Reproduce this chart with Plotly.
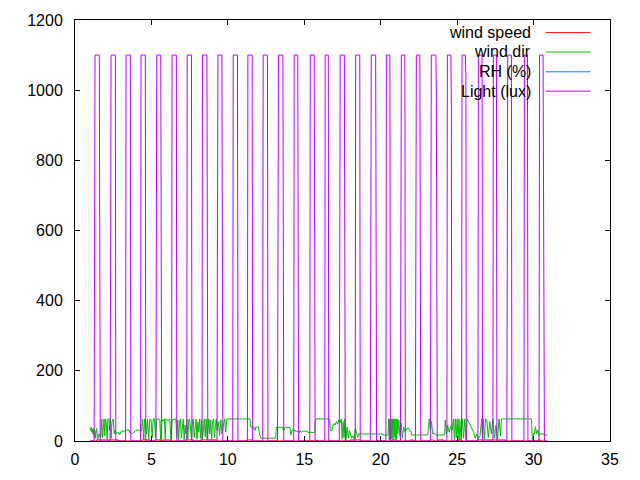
import plotly.graph_objects as go

# ---------------- data ----------------
# Light (lux): daily pulses -> on/off days, plus intermediate levels on the edges
pulse_on = [1.31, 2.36, 3.34, 4.32, 5.35, 6.35, 7.34, 8.34, 9.35, 10.35,
            11.31, 12.31, 13.31, 14.34, 15.39, 16.37, 17.35, 18.36, 19.38, 20.37,
            21.35, 22.33, 23.31, 24.36, 25.32, 26.39, 27.37, 28.31, 29.40, 30.39]
pulse_off = [1.59, 2.64, 3.62, 4.60, 5.61, 6.63, 7.62, 8.63, 9.61, 10.63,
             11.59, 12.59, 13.60, 14.57, 15.65, 16.57, 17.62, 18.63, 19.67, 20.60,
             21.58, 22.56, 23.61, 24.59, 25.54, 26.63, 27.57, 28.55, 29.60, 30.62]
pulse_level = 1100
rise_steps = [[553], [354], [], [], [938], [], [], [], [661], [],
              [], [], [618], [], [], [], [640], [], [390], [],
              [430], [651], [561], [], [], [], [], [957], [], []]
fall_steps = [[678], [], [], [], [380], [], [], [647], [630], [],
              [], [], [482], [413], [571], [], [376], [], [451], [],
              [], [356], [995, 454], [957], [1038], [], [], [], [], [758, 571]]
light_start, light_end = 0.98, 30.92

# wind dir (day, value)
wind_dir = [
    (0.98, 36), (1.02, 30), (1.06, 40), (1.10, 25), (1.14, 34), (1.18, 20), (1.22, 36),
    (1.26, 10), (1.30, 30), (1.34, 8), (1.38, 28), (1.42, 36),
    (1.48, 5), (1.58, 20), (1.68, 8),
    (1.75, 63), (1.80, 10), (1.85, 60), (1.90, 63), (1.95, 15), (2.00, 63), (2.05, 50),
    (2.10, 5), (2.15, 63), (2.22, 63), (2.27, 30), (2.32, 63), (2.37, 8), (2.42, 55),
    (2.50, 63), (2.57, 20),
    (2.62, 30), (2.72, 20), (2.82, 25), (2.92, 17), (3.02, 28),
    (3.10, 28), (3.25, 28), (3.30, 31), (3.55, 31), (3.60, 22), (3.75, 22), (3.95, 28),
    (4.00, 31), (4.20, 31), (4.25, 28), (4.35, 28),
    (4.40, 63), (4.45, 40), (4.50, 3), (4.55, 63), (4.62, 55), (4.68, 20), (4.75, 63),
    (4.82, 5), (4.90, 63), (4.98, 60), (5.05, 10), (5.12, 63), (5.20, 63), (5.28, 8),
    (5.35, 63), (5.50, 63), (5.55, 58), (5.60, 3), (5.65, 63), (5.75, 56), (5.85, 63),
    (5.90, 5), (5.95, 63), (6.10, 58), (6.20, 63), (6.28, 3), (6.35, 60), (6.60, 63),
    (6.66, 10), (6.72, 60), (6.78, 3), (6.84, 55), (6.90, 63), (6.96, 8), (7.02, 50),
    (7.08, 63), (7.14, 3), (7.20, 45), (7.26, 20), (7.32, 63), (7.38, 5), (7.44, 60),
    (7.50, 63), (7.56, 15), (7.62, 3), (7.68, 58), (7.74, 63), (7.80, 10), (7.86, 40),
    (7.92, 63), (7.98, 5), (8.04, 55), (8.10, 25), (8.16, 63), (8.22, 8), (8.28, 60),
    (8.34, 3), (8.40, 50), (8.46, 63), (8.52, 12), (8.58, 63), (8.64, 5), (8.70, 45),
    (8.76, 63), (8.82, 20), (8.88, 60), (8.94, 3), (9.00, 55), (9.06, 63), (9.12, 10),
    (9.18, 40), (9.24, 63),
    (9.30, 30), (9.38, 55), (9.46, 15), (9.54, 60), (9.62, 20), (9.70, 45), (9.78, 63),
    (9.86, 25),
    (9.93, 63), (11.45, 63),
    (11.48, 40), (11.70, 40), (11.72, 31), (11.80, 31), (11.82, 40), (12.00, 40),
    (12.08, 17), (12.18, 8), (13.13, 8),
    (13.17, 39), (13.60, 39), (13.62, 31), (13.70, 31), (13.72, 39), (14.06, 39),
    (14.12, 17), (14.20, 31), (14.40, 31), (14.42, 28), (14.60, 28),
    (14.66, 22), (14.72, 30), (14.80, 25), (14.90, 28), (15.20, 28), (15.22, 25),
    (15.45, 25), (15.47, 24), (15.68, 24),
    (15.72, 55), (15.78, 63), (16.66, 63),
    (16.70, 30), (16.82, 30), (16.85, 41), (16.95, 50),
    (17.02, 45), (17.10, 55), (17.18, 48), (17.26, 60), (17.34, 52), (17.42, 63),
    (17.48, 5), (17.54, 55), (17.60, 10), (17.66, 63), (17.72, 3), (17.80, 40),
    (17.88, 8), (17.95, 30),
    (18.02, 20), (18.10, 8), (18.18, 15), (18.26, 5), (18.34, 36), (18.42, 20), (18.50, 10),
    (18.56, 20), (20.10, 20), (20.12, 17), (20.48, 17),
    (20.52, 63), (20.56, 3), (20.60, 63), (20.64, 3), (20.68, 63), (20.72, 5), (20.76, 63),
    (20.80, 3), (20.84, 63), (20.88, 10), (20.92, 63), (20.96, 3), (21.00, 63), (21.04, 5),
    (21.08, 63), (21.12, 20),
    (21.18, 60), (21.26, 15), (21.34, 50), (21.42, 8), (21.50, 40), (21.60, 25),
    (21.70, 36), (21.85, 36), (21.90, 28), (21.98, 28),
    (22.02, 17), (23.08, 17),
    (23.12, 40), (23.18, 63), (23.25, 30), (23.32, 55), (23.40, 20),
    (23.50, 22), (23.60, 17), (24.18, 17),
    (24.22, 60), (24.30, 20), (24.38, 45), (24.48, 25),
    (24.56, 41), (24.68, 31),
    (24.76, 63), (24.82, 3), (24.88, 63), (24.94, 10), (25.00, 63), (25.06, 5), (25.12, 63),
    (25.18, 3), (25.26, 60), (25.34, 63), (25.42, 8), (25.50, 63), (25.58, 3), (25.66, 63),
    (25.74, 55), (25.86, 45), (25.98, 31),
    (26.08, 25), (26.18, 8), (26.28, 20), (26.38, 5), (26.50, 15),
    (26.60, 63), (26.66, 3), (26.72, 63), (26.78, 5), (26.86, 63),
    (26.94, 60), (27.04, 10), (27.14, 55), (27.24, 20), (27.34, 63), (27.44, 8),
    (27.54, 45), (27.64, 5), (27.74, 63), (27.84, 15),
    (27.90, 63), (29.86, 63),
    (29.92, 3), (30.00, 22), (30.06, 20),
    (30.12, 41), (30.20, 20), (30.28, 31), (30.36, 15),
    (30.42, 20), (30.70, 20), (30.72, 17), (30.92, 17),
]

# wind speed (day, value)
wind_speed = [
    (0.98, 0), (1.40, 0), (1.42, 3), (2.84, 3), (2.86, 0), (4.36, 0), (4.38, 3), (4.90, 3),
    (4.92, 0), (5.23, 0), (5.25, 3), (5.56, 3), (5.58, 0), (5.76, 0), (5.78, 3), (6.22, 3),
    (6.24, 0), (7.19, 0), (7.21, 3), (7.72, 3), (7.74, 0), (8.18, 0), (8.20, 3), (9.28, 3),
    (9.30, 0), (11.22, 0), (11.24, 3), (11.56, 3), (11.58, 0), (15.48, 0), (15.50, 3),
    (15.54, 0), (15.80, 0), (15.82, 3), (15.86, 0), (17.98, 0), (18.00, 3), (18.66, 3),
    (18.68, 0), (19.78, 0), (19.80, 3), (19.84, 0), (20.72, 0), (20.74, 3), (21.07, 3),
    (21.09, 0), (21.92, 0), (21.94, 3), (22.13, 3), (22.15, 0), (23.23, 0), (23.25, 3),
    (23.45, 3), (23.47, 0), (23.75, 0), (23.77, 3), (24.10, 3), (24.12, 0), (24.98, 0),
    (25.00, 3), (25.30, 3), (25.32, 0), (26.28, 0), (26.30, 3), (28.16, 3), (28.18, 0),
    (30.28, 0), (30.30, 3), (30.45, 3), (30.47, 0), (30.92, 0),
]

# RH (%): no visible samples in the reference
rh_day = []
rh_val = []

series_names = ["wind speed", "wind dir", "RH (%)", "Light (lux)"]
series_colors = ["#ff0000", "#00c000", "#0080ff", "#c000ff"]

x_range = [0, 35]
y_range = [0, 1200]

# ---------------- build light line ----------------
step_dt = 0.03
light_x, light_y = [light_start], [0]
for on, off, rs, fs in zip(pulse_on, pulse_off, rise_steps, fall_steps):
    seq = [0] + rs
    n = len(seq)
    for i, v in enumerate(seq):
        light_x.append(on - step_dt * (n - i))
        light_y.append(v)
    light_x += [on, off]
    light_y += [pulse_level, pulse_level]
    seq = fs + [0]
    for i, v in enumerate(seq):
        light_x.append(off + step_dt * (i + 1))
        light_y.append(v)
light_x.append(light_end)
light_y.append(0)

font_family = "Liberation Sans, Arial, sans-serif"

fig = go.Figure()
fig.add_trace(go.Scatter(x=[p[0] for p in wind_speed], y=[p[1] for p in wind_speed],
                         mode="lines", line=dict(color=series_colors[0], width=1),
                         name=series_names[0], showlegend=False))
fig.add_trace(go.Scatter(x=[p[0] for p in wind_dir], y=[p[1] for p in wind_dir],
                         mode="lines", line=dict(color=series_colors[1], width=1),
                         name=series_names[1], showlegend=False))
fig.add_trace(go.Scatter(x=rh_day, y=rh_val, mode="lines",
                         line=dict(color=series_colors[2], width=1),
                         name=series_names[2], showlegend=False))
fig.add_trace(go.Scatter(x=light_x, y=light_y, mode="lines",
                         line=dict(color=series_colors[3], width=1),
                         name=series_names[3], showlegend=False))

# gnuplot-style key: right-aligned text with line sample on its right
key_y = [0.970, 0.924, 0.877, 0.831]
for name, color, ky in zip(series_names, series_colors, key_y):
    fig.add_annotation(xref="paper", yref="paper", x=0.857, y=ky, text=name,
                       showarrow=False, xanchor="right", yanchor="middle",
                       font=dict(family=font_family, size=16, color="#000000"))
    fig.add_shape(type="line", xref="paper", yref="paper", x0=0.880, x1=0.9635,
                  y0=ky, y1=ky, line=dict(color=color, width=1))

axis_common = dict(showgrid=False, zeroline=False, showline=True, linecolor="#000000",
                   linewidth=1, mirror="ticks", ticks="inside", ticklen=5,
                   tickcolor="#000000", tickwidth=1, automargin=False,
                   tickfont=dict(family=font_family, size=16, color="#000000"))
fig.update_xaxes(range=x_range, dtick=5, tick0=0, ticklabelstandoff=4, **axis_common)
fig.update_yaxes(range=y_range, dtick=200, tick0=0, ticklabelstandoff=8, **axis_common)

fig.update_layout(width=640, height=480, margin=dict(l=75, r=30, t=20, b=39),
                  plot_bgcolor="#ffffff", paper_bgcolor="#ffffff",
                  font=dict(family=font_family, size=16, color="#000000"),
                  showlegend=False)

fig.write_html("out.html", config={"displayModeBar": False},
               post_script="document.body.style.margin='0';document.body.style.overflow='hidden';")
